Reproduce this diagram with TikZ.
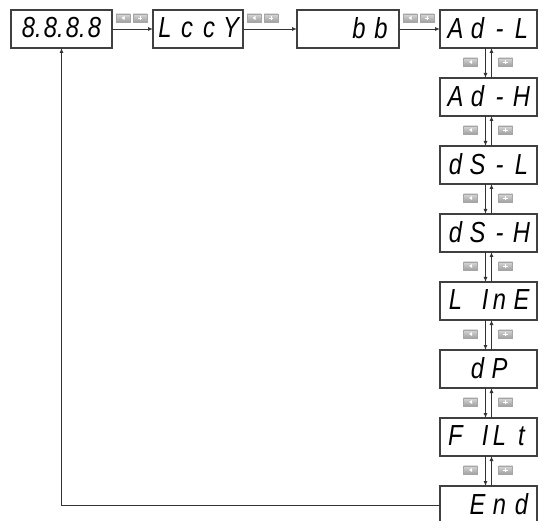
\documentclass[tikz,border=0pt]{standalone}
\usepackage{fontspec}
\newfontfamily\segfont{Liberation Sans}[FakeStretch=0.82]
\usetikzlibrary{arrows.meta,positioning}
\newcommand\dg[1]{\makebox[22pt][c]{#1}}
\newcommand\dgr[1]{\makebox[22pt][r]{#1}}
\newcommand\shown[1]{\raisebox{3pt}{#1}}

\begin{document}
\begin{tikzpicture}[
  x=1pt, y=1pt,
  node distance=30pt and 41pt,
  disp/.style={draw=black!75, line width=1.3pt, minimum height=38pt,
               minimum width=97pt, inner sep=0pt, outer sep=0pt,
               font=\fontsize{29}{29}\selectfont\segfont\itshape},
  key/.style={draw=black!35, top color=black!15, bottom color=black!38,
              minimum width=14pt, minimum height=8.5pt, inner sep=0pt},
  keyl/.style={key, path picture={\fill[white]
      ([xshift=-1.5pt]path picture bounding box.center) -- ++(3pt,2pt)
      -- ++(0,-4pt) -- cycle;}},
  keyr/.style={key, path picture={\draw[white, line width=0.9pt]
      ([xshift=-2.2pt]path picture bounding box.center) -- ++(4.4pt,0)
      ([yshift=-2.2pt]path picture bounding box.center) -- ++(0,4.4pt);}},
  arr/.style={-{Latex[length=5pt,width=4pt]}, line width=0.9pt, draw=black!80},
]
\useasboundingbox (0,0) rectangle (538,-521);

% top row
\node[disp, minimum width=101pt, anchor=north west] (d8888) at (11,-10)
  {\shown{\dg{8\rlap{.}}\dg{8\rlap{.}}\dg{8\rlap{.}}\dg{8}}};
\node[disp, minimum width=90pt, right=41pt of d8888] (lcck) {\shown{\dg{L}\dg{c}\dg{c}\dg{Y}}};
\node[disp, minimum width=102pt, right=54pt of lcck] (bb) {\shown{\dg{}\dg{}\dg{b}\dg{b}}};
\node[disp, right=41pt of bb] (adl) {\shown{\dg{A}\dg{d}\dg{-}\dg{L}}};

% right column
\node[disp, below=of adl]  (adh)  {\shown{\dg{A}\dg{d}\dg{-}\dg{H}}};
\node[disp, below=of adh]  (dsl)  {\shown{\dg{d}\dg{S}\dg{-}\dg{L}}};
\node[disp, below=of dsl]  (dsh)  {\shown{\dg{d}\dg{S}\dg{-}\dg{H}}};
\node[disp, below=of dsh]  (line) {\shown{\dg{L}\dgr{I}\dg{n}\dg{E}}};
\node[disp, below=of line] (dp)   {\shown{\dg{}\dg{d}\dg{P}\dg{}}};
\node[disp, below=of dp]   (filt) {\shown{\dg{F}\dgr{I}\dg{L}\dg{t}}};
\node[disp, below=of filt] (end)  {\shown{\dg{}\dg{E}\dg{n}\dg{d}}};

\draw[arr] (d8888) -- (lcck);
\draw[arr] (lcck) -- (bb);
\draw[arr] (bb) -- (adl);
\foreach \a in {d8888, lcck, bb} {
  \node[keyl] (\a-kl) at ([xshift=11pt, yshift=-8pt]\a.north east) {};
  \node[keyr] (\a-kr) at ([xshift=28pt, yshift=-8pt]\a.north east) {};
}

\foreach \u/\l in {adl/adh, adh/dsl, dsl/dsh, dsh/line, line/dp, dp/filt, filt/end} {
  \draw[arr] ([xshift=-3pt]\u.south) -- ([xshift=-3pt]\l.north);
  \draw[arr] ([xshift=3pt]\l.north) -- ([xshift=3pt]\u.south);
  \node[keyl] (\u-kl) at ([xshift=-18pt, yshift=-14pt]\u.south) {};
  \node[keyr] (\u-kr) at ([xshift=17pt, yshift=-14pt]\u.south) {};
}

% back to the start
\draw[arr] (end.west) -| (d8888.south);
\end{tikzpicture}
\end{document}
